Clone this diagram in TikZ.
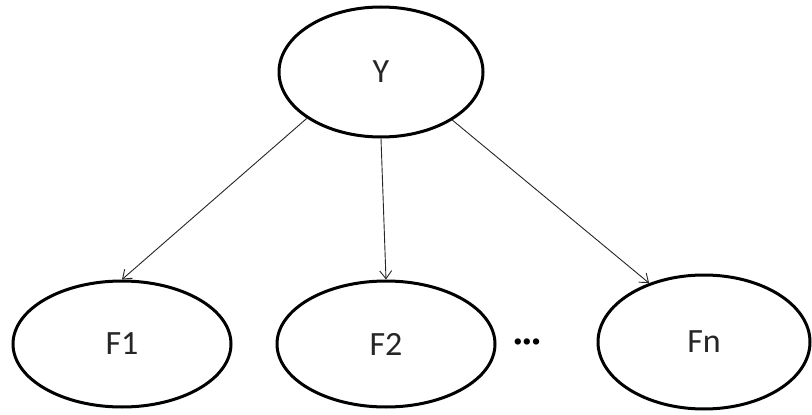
\documentclass[tikz,border=0pt]{standalone}
\usepackage{fontspec}
\setmainfont{Carlito}
\usetikzlibrary{shapes.geometric,arrows.meta}
\begin{document}
\begin{tikzpicture}[x=1pt,y=-1pt,
  var/.style={draw=black, line width=3pt, ellipse, inner sep=0pt,
    font=\fontsize{34}{40}\selectfont, text=black!85},
  arr/.style={line width=0.9pt, draw=black!85, -{Straight Barb[length=8pt,width=12pt,line width=0.9pt]}}]
\useasboundingbox[fill=white] (0,0) rectangle (812,415);
\node[var, minimum width=204pt, minimum height=130pt] (Y) at (381,72) {Y};
\node[var, minimum width=218pt, minimum height=126pt] (F1) at (122,344) {F1};
\node[var, minimum width=218pt, minimum height=126pt] (F2) at (386,344) {F2};
\node[var, minimum width=212pt, minimum height=134pt] (Fn) at (704,342) {Fn};
\node[font=\fontsize{34}{40}\selectfont\bfseries, inner sep=0pt] (dots) at (527,345) {···};
\draw[arr] (Y.212) -- (F1.north);
\draw[arr] (Y.south) -- (F2.north);
\draw[arr] (Y.326) -- (Fn.133);
\end{tikzpicture}
\end{document}
